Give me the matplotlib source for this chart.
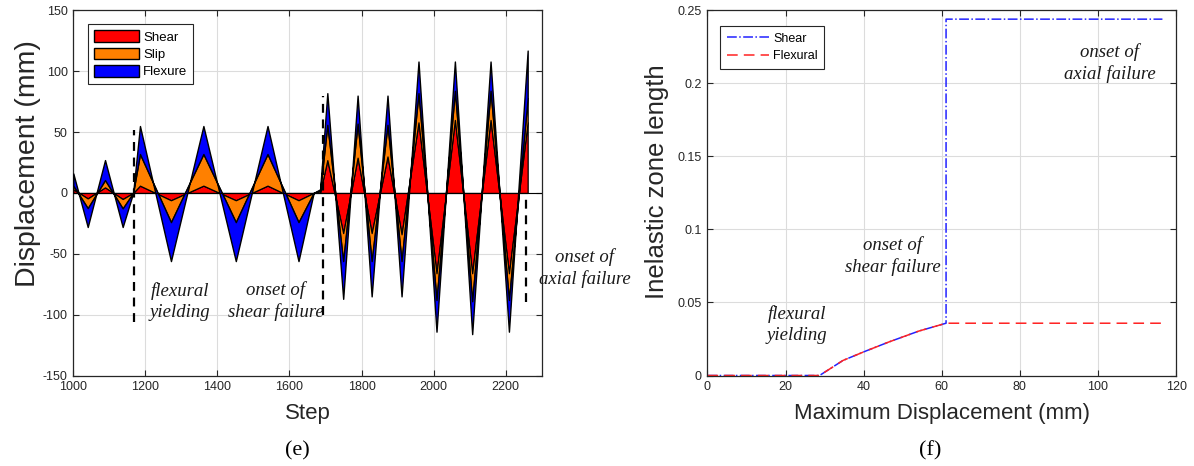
import numpy as np
import matplotlib
matplotlib.use('Agg')
import matplotlib.pyplot as plt
from matplotlib.patches import Patch

# ---- data, panel (e): stacked displacement components at peaks
steps = [1000, 1040, 1088, 1137, 1166, 1185, 1271, 1361, 1451, 1539, 1625, 1667, 1685,
         1705, 1749, 1789, 1828, 1872, 1911, 1958, 2008, 2059, 2107, 2158, 2209, 2261]
shear = [3, -4.5, 4.6, -5, 0, 6, -6, 6, -6, 6, -6, 0, 0.5,
         27, -33, 29, -33, 30, -34, 58, -66, 60, -66, 60, -66, 58]
slip = [3, -8, 6, -7.7, 0, 26, -18, 26, -18, 26, -18, 0, 1.5,
        29, -23, 28, -23, 26, -22, 24, -22, 24, -23, 24, -22, 20]
flexure = [10, -15.5, 16.4, -15.3, 0, 23, -32, 23, -32, 23, -32, 0, 1,
           26, -31, 23, -29, 24, -29, 26, -26, 24, -27, 24, -26, 39]
marks_e = [1168, 1693, 2256]
marks_e_top = [52, 80, 0]
marks_e_bot = [-106, -100, -90]

# ---- data, panel (f): inelastic zone length
shear_x = [0, 28.7, 34.7, 40.5, 46.4, 54.1, 61.1, 61.1, 116.5]
shear_y = [0, 0, 0.0103, 0.0167, 0.0229, 0.0304, 0.0358, 0.244, 0.244]
flex_x = [0, 28.7, 34.7, 40.5, 46.4, 54.1, 61.1, 116.8]
flex_y = [0, 0, 0.0103, 0.0167, 0.0229, 0.0304, 0.0358, 0.0358]

sans = 'Liberation Sans'
serif = 'Liberation Serif'
plt.rcParams['font.family'] = sans
plt.rcParams['axes.unicode_minus'] = False

fig = plt.figure(figsize=(11.94, 4.66), dpi=100)
ax1 = fig.add_axes([0.0614, 0.1942, 0.3923, 0.7835])
ax2 = fig.add_axes([0.5925, 0.1942, 0.3925, 0.7835])


def style(ax):
    ax.grid(True, color='#dcdcdc', linewidth=0.8)
    ax.set_axisbelow(True)
    ax.tick_params(direction='in', top=True, right=True, labelsize=9,
                   colors='#262626', length=4, width=0.8, pad=4)
    for s in ax.spines.values():
        s.set_color('#262626')
        s.set_linewidth(0.9)


# ---- panel (e)
st = np.array(steps, dtype=float)
c1 = np.array(shear, dtype=float)
c2 = c1 + np.array(slip, dtype=float)
c3 = c2 + np.array(flexure, dtype=float)
ax1.fill_between(st, 0, c1, facecolor='#ff0000', edgecolor='k', linewidth=0.9, zorder=3)
ax1.fill_between(st, c1, c2, facecolor='#ff8000', edgecolor='k', linewidth=0.9, zorder=3)
ax1.fill_between(st, c2, c3, facecolor='#0000ff', edgecolor='k', linewidth=1.0, zorder=3)
ax1.axhline(0, color='k', linewidth=0.8, zorder=4)
for x, t, b in zip(marks_e, marks_e_top, marks_e_bot):
    ax1.plot([x, x], [b, t], color='k', linestyle=(0, (4, 3)), linewidth=1.6, zorder=5)

ax1.set_xlim(1000, 2300)
ax1.set_ylim(-150, 150)
ax1.set_xticks(range(1000, 2201, 200))
ax1.set_yticks(range(-150, 151, 50))
style(ax1)
ax1.set_xlabel('Step', fontsize=16, color='#262626', labelpad=7)
ax1.set_ylabel('Displacement (mm)', fontsize=20.5, color='#262626')
ax1.yaxis.set_label_coords(-0.07, 0.58)

leg1 = ax1.legend(handles=[Patch(facecolor='#ff0000', edgecolor='k', label='Shear'),
                           Patch(facecolor='#ff8000', edgecolor='k', label='Slip'),
                           Patch(facecolor='#0000ff', edgecolor='k', label='Flexure')],
                  loc='upper left', bbox_to_anchor=(0.018, 0.98), fontsize=9.5,
                  handlelength=3.4, handleheight=1.0, labelspacing=0.3,
                  handletextpad=0.3, borderpad=0.45, fancybox=False, framealpha=1)
leg1.get_frame().set_edgecolor('#262626')
leg1.get_frame().set_linewidth(0.8)

tkw = dict(fontfamily=serif, fontstyle='italic', fontsize=13.5, ha='center',
           va='center', linespacing=1.3, color='#1a1a1a')
ax1.text(1296, -89, 'flexural\nyielding', **tkw)
ax1.text(1562, -89, 'onset of\nshear failure', **tkw)
ax1.text(2420, -62, 'onset of\naxial failure', clip_on=False, **tkw)

# ---- panel (f)
ax2.plot(shear_x, shear_y, color='#2222ff', linestyle='-.', linewidth=1.1, label='Shear')
ax2.plot(flex_x, flex_y, color='#ff2222', linestyle=(0, (7, 4)), linewidth=1.1,
         label='Flexural')
ax2.set_xlim(0, 120)
ax2.set_ylim(0, 0.25)
ax2.set_xticks(range(0, 121, 20))
ax2.set_yticks([0, 0.05, 0.1, 0.15, 0.2, 0.25])
ax2.set_yticklabels(['0', '0.05', '0.1', '0.15', '0.2', '0.25'])
style(ax2)
ax2.set_xlabel('Maximum Displacement (mm)', fontsize=16, color='#262626', labelpad=7)
ax2.set_ylabel('Inelastic zone length', fontsize=18.5, color='#262626')
ax2.yaxis.set_label_coords(-0.083, 0.53)

leg2 = ax2.legend(loc='upper left', bbox_to_anchor=(0.013, 0.975), fontsize=9,
                  handlelength=3.4, labelspacing=0.45, handletextpad=0.3,
                  borderpad=0.55, fancybox=False, framealpha=1)
leg2.get_frame().set_edgecolor('#262626')
leg2.get_frame().set_linewidth(0.8)

ax2.text(103, 0.214, 'onset of\naxial failure', **tkw)
ax2.text(47.5, 0.082, 'onset of\nshear failure', **tkw)
ax2.text(23, 0.035, 'flexural\nyielding', **tkw)

fig.text(0.249, 0.032, '(e)', fontfamily=serif, fontsize=16, ha='center', va='center')
fig.text(0.779, 0.032, '(f)', fontfamily=serif, fontsize=16, ha='center', va='center')

fig.savefig('out.png', dpi=100)
